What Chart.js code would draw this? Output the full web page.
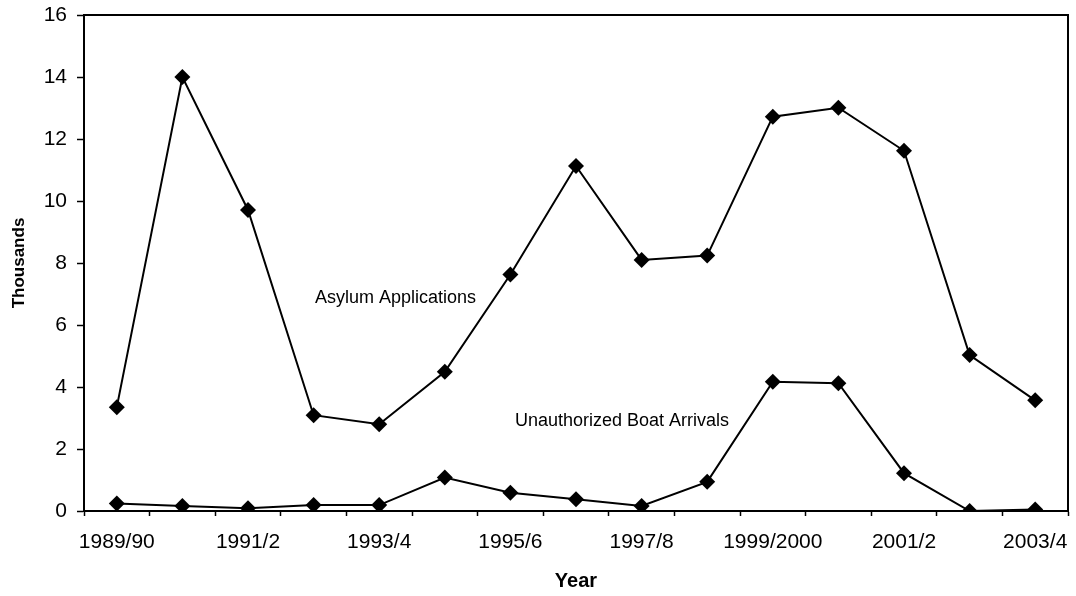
<!DOCTYPE html>
<html>
<head>
<meta charset="utf-8">
<script src="https://cdn.jsdelivr.net/npm/chart.js@4/dist/chart.umd.min.js"></script>
<style>
    html, body { margin: 0; padding: 0; background: #fff; }
    #wrap { width: 1076px; height: 596px; }
</style>
</head>
<body>
<div id="wrap"><canvas id="chart"></canvas></div>
<script>
const years = ['1989/90', '1990/1', '1991/2', '1992/3', '1993/4', '1994/5', '1995/6', '1996/7',
               '1997/8', '1998/9', '1999/2000', '2000/1', '2001/2', '2002/3', '2003/4'];
const asylumApplications = [3.35, 14.0, 9.71, 3.09, 2.8, 4.49, 7.63, 11.13, 8.1, 8.24, 12.72, 13.01, 11.62, 5.03, 3.57];
const boatArrivals = [0.24, 0.16, 0.09, 0.19, 0.19, 1.08, 0.59, 0.38, 0.16, 0.94, 4.17, 4.12, 1.22, 0.0, 0.05];
const seriesNames = ['Asylum Applications', 'Unauthorized Boat Arrivals'];

const FONT = "'Liberation Sans', Arial, sans-serif";

// series names written inside the plot, placed in data units
const seriesLabels = [
    { text: seriesNames[0], x: 3.02, y: 6.87 },
    { text: seriesNames[1], x: 6.07, y: 2.9 }
];

const labelPlugin = {
    id: 'seriesLabels',
    afterDatasetsDraw(chart) {
        const ctx = chart.ctx;
        const xs = chart.scales.x, ys = chart.scales.y;
        ctx.save();
        ctx.font = '18px ' + FONT;
        ctx.fillStyle = '#000';
        ctx.textAlign = 'left';
        ctx.textBaseline = 'middle';
        seriesLabels.forEach(l => {
            ctx.fillText(l.text, xs.getPixelForValue(l.x), ys.getPixelForValue(l.y));
        });
        ctx.restore();
    }
};

const framePlugin = {
    id: 'frame',
    afterDraw(chart) {
        const a = chart.chartArea;
        const ctx = chart.ctx;
        ctx.save();
        ctx.strokeStyle = '#000';
        ctx.lineWidth = 2;
        ctx.strokeRect(a.left, a.top, a.right - a.left, a.bottom - a.top);
        ctx.restore();
    }
};

function lineSet(label, data) {
    return {
        label: label,
        data: data,
        borderColor: '#000',
        backgroundColor: '#000',
        borderWidth: 2,
        pointStyle: 'rectRot',
        pointRadius: 8,
        pointHoverRadius: 8,
        pointBorderWidth: 0,
        tension: 0
    };
}

new Chart(document.getElementById('chart'), {
    type: 'line',
    data: {
        labels: years,
        datasets: [
            lineSet(seriesNames[0], asylumApplications),
            lineSet(seriesNames[1], boatArrivals)
        ]
    },
    options: {
        responsive: true,
        maintainAspectRatio: false,
        animation: false,
        layout: { padding: { left: 0, right: 7, top: 15, bottom: 0 } },
        plugins: {
            legend: { display: false },
            tooltip: { enabled: false }
        },
        scales: {
            x: {
                offset: true,
                grid: { offset: true, drawOnChartArea: false, color: '#000', tickLength: 5, tickWidth: 1.5 },
                border: { color: '#000', width: 2 },
                ticks: {
                    autoSkip: false,
                    maxRotation: 0,
                    padding: 14,
                    color: '#000',
                    font: { family: FONT, size: 21 },
                    callback: function (value, index) {
                        return index % 2 === 0 ? this.getLabelForValue(value) : '';
                    }
                },
                title: {
                    display: true,
                    text: 'Year',
                    color: '#000',
                    padding: { top: 0, bottom: 3 },
                    font: { family: FONT, size: 20, weight: 'bold' }
                },
                afterFit(scale) {
                    scale.height = 85;
                    scale.paddingLeft = 0;
                    scale.paddingRight = 0;
                }
            },
            y: {
                min: 0,
                max: 16,
                ticks: {
                    stepSize: 2,
                    padding: 10,
                    color: '#000',
                    font: { family: FONT, size: 21 }
                },
                grid: { drawOnChartArea: false, color: '#000', tickLength: 7, tickWidth: 1.5 },
                border: { color: '#000', width: 2 },
                title: {
                    display: true,
                    text: 'Thousands',
                    color: '#000',
                    padding: { top: 9, bottom: 0 },
                    font: { family: FONT, size: 17, weight: 'bold' }
                },
                afterFit(scale) {
                    scale.width = 84;
                    scale.paddingTop = 0;
                    scale.paddingBottom = 0;
                }
            }
        }
    },
    plugins: [labelPlugin, framePlugin]
});
</script>
</body>
</html>
